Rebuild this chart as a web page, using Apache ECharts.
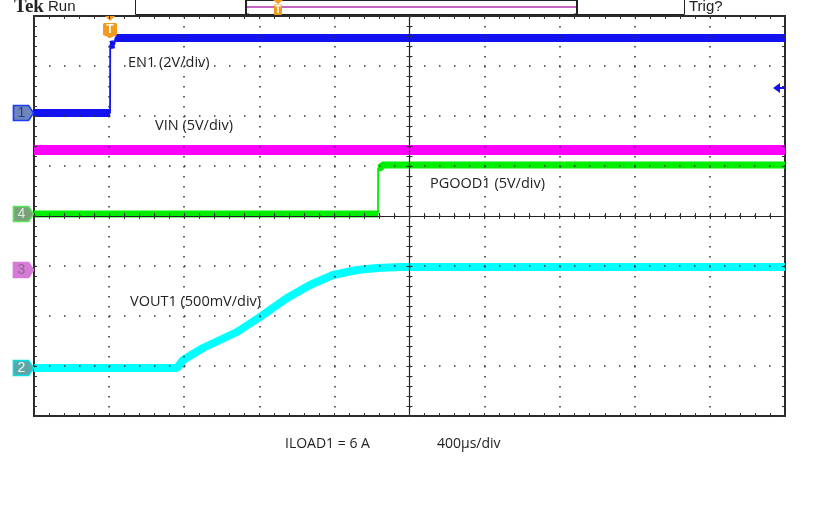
<!DOCTYPE html>
<html><head><meta charset="utf-8">
<script src="https://cdn.jsdelivr.net/npm/echarts@6/dist/echarts.min.js"></script>
<style>html,body{margin:0;padding:0;background:#fff}#c{width:814px;height:505px}</style>
</head><body><div id="c"></div>
<script>
// ---- data (time in µs, center of screen = 0; values in volts) ----
const timeMin = -2000, timeMax = 2000, timeDiv = 400;
const divMin = -4, divMax = 4;

const en1Time = [-2000, -1595, -1594, -1572, -1566, 2000];
const en1Volt = [0, 0, 2.72, 2.75, 3.0, 3.0];
const vinTime = [-2000, 2000];
const vinVolt = [12.0, 12.0];
const pgoodTime = [-2000, -168, -167, -150, -146, 2000];
const pgoodVolt = [0, 0, 4.6, 4.65, 4.9, 4.9];
const voutTime = [-2000, -1238, -1206, -1100, -919, -796, -652, -530, -407, -280, -173, -51, 2000];
const voutVolt = [0, 0, 0.08, 0.20, 0.36, 0.51, 0.70, 0.83, 0.93, 0.98, 1.00, 1.01, 1.01];

const chNumbers = ['1', '2', '3', '4'];
const chVoltsPerDiv = [2, 0.5, 5, 5];
const chOffsetDiv = [2.06, -3.04, -1.08, 0.04];
const chLabels = ['EN1 (2V/div)', 'VOUT1 (500mV/div)', 'VIN (5V/div)', 'PGOOD1 (5V/div)'];
const footerLabels = ['ILOAD1 = 6 A', '400µs/div'];
const trigTime = -1595;
const trigLevelVolt = 1.0;

// ---- styling ----
const chColors = ['#1212f0', '#00ffff', '#ff00ff', '#00ee00'];
const chBandWidth = [8, 8, 10, 7];
const markerFill = ['#6f86b8', '#5fa5a5', '#d77ad7', '#7aa07a'];
const markerBorder = ['#1e3cff', '#00e0e0', '#d77ad7', '#5ae35a'];
const markerText = ['#2a3a9a', '#e8ffff', '#8a6a8a', '#d8f0d8'];

const channels = [
  {t: en1Time, v: en1Volt},
  {t: voutTime, v: voutVolt},
  {t: vinTime, v: vinVolt},
  {t: pgoodTime, v: pgoodVolt}
];

function toDivPoints(ch, i) {
  return ch.t.map((t, k) => [t, chOffsetDiv[i] + ch.v[k] / chVoltsPerDiv[i]]);
}
function bandPoints(pts) {
  const out = [];
  for (let k = 0; k < pts.length; k++) {
    out.push(pts[k]);
    if (k < pts.length - 1) {
      const dt = (pts[k + 1][0] - pts[k][0]) / timeDiv;
      const dv = Math.abs(pts[k + 1][1] - pts[k][1]);
      if (dt < 0.03 && dv > 0.1) out.push([pts[k][0], '-']);
    }
  }
  return out;
}

const series = [];
const drawOrder = [0, 2, 3, 1];
drawOrder.forEach(i => {
  const pts = toDivPoints(channels[i], i);
  series.push({
    type: 'line', data: bandPoints(pts), showSymbol: false, silent: true, animation: false,
    lineStyle: {color: chColors[i], width: chBandWidth[i], cap: 'butt'}, z: 2
  });
  const s = {
    type: 'line', data: pts, showSymbol: false, silent: true, animation: false,
    lineStyle: {color: chColors[i], width: 1.8}, z: 2,
    markPoint: {
      silent: true, animation: false,
      data: [{
        coord: [timeMin, chOffsetDiv[i]],
        symbol: 'path://M0,0 L15,0 L20,7.5 L15,15 L0,15 Z',
        symbolSize: [20, 15], symbolOffset: [-10.5, 0], symbolKeepAspect: false,
        itemStyle: {color: markerFill[i], borderColor: markerBorder[i], borderWidth: 1.5},
        label: {show: true, formatter: chNumbers[i], position: 'inside', offset: [-2, 0.5],
                color: markerText[i], fontSize: 14, fontFamily: 'Liberation Sans'}
      }]
    }
  };
  if (i === 0) {
    s.markPoint.data.push({
      coord: [trigTime, divMax],
      symbol: 'path://M2,0 L12,0 L7,5 Z M1.5,7 L12.5,7 Q14,7 14,8.5 L14,19 L7,22 L0,19 L0,8.5 Q0,7 1.5,7 Z',
      symbolSize: [14, 22], symbolOffset: [0, 11], symbolKeepAspect: false,
      itemStyle: {color: '#f39a1e'},
      label: {show: true, formatter: 'T', position: 'inside', offset: [0, 3], color: '#fff',
              fontWeight: 'bold', fontSize: 12, fontFamily: 'Liberation Sans'}
    });
    s.markPoint.data.push({
      coord: [timeMax, chOffsetDiv[0] + trigLevelVolt / chVoltsPerDiv[0]],
      symbol: 'path://M0,5 L7,0 L7,4 L12,4 L12,6 L7,6 L7,10 Z',
      symbolSize: [12, 10], symbolOffset: [-6, 0],
      itemStyle: {color: '#1212f0'}, label: {show: false}
    });
  }
  series.push(s);
});

const tickCol = '#333';
function xAx(extra) {
  return Object.assign({type: 'value', min: timeMin, max: timeMax, interval: timeDiv, z: 5,
    axisLabel: {show: false}, splitLine: {show: false}}, extra);
}
function yAx(extra) {
  return Object.assign({type: 'value', min: divMin, max: divMax, interval: 1, z: 5,
    axisLabel: {show: false}, splitLine: {show: false}}, extra);
}
const tick = (inside) => ({show: true, inside: inside, length: 3, lineStyle: {color: tickCol, width: 1}});
const minor = {show: true, splitNumber: 5, length: 3, lineStyle: {color: tickCol, width: 1}};
const txt = (x, y, s, font) => ({type: 'text', x: x, y: y, z: 10,
  style: {text: s, font: font, fill: '#222', verticalAlign: 'middle', align: 'left'}});
const labelFont = '14.5px "Open Sans"';

const option = {
  animation: false,
  grid: {left: 34, right: 29, top: 16, height: 400, show: true, borderColor: '#2a2a2a', borderWidth: 2, backgroundColor: 'transparent'},
  xAxis: [
    xAx({position: 'bottom', axisLine: {show: true, onZero: true, onZeroAxisIndex: 0, lineStyle: {color: '#222', width: 1.2}},
         axisTick: tick(true), minorTick: minor,
         splitLine: {show: true, lineStyle: {color: '#333', width: 1.5, type: [1.5, 8.5]}}}),
    xAx({position: 'bottom', axisLine: {show: false, onZero: true, onZeroAxisIndex: 0}, axisTick: tick(false), minorTick: minor}),
    xAx({position: 'top', axisLine: {show: false, onZero: false}, axisTick: tick(true), minorTick: minor}),
    xAx({position: 'bottom', axisLine: {show: false, onZero: false}, axisTick: tick(true), minorTick: minor})
  ],
  yAxis: [
    yAx({position: 'left', axisLine: {show: true, onZero: true, onZeroAxisIndex: 0, lineStyle: {color: '#222', width: 1.2}},
         axisTick: tick(true), minorTick: minor,
         splitLine: {show: true, lineStyle: {color: '#333', width: 1.5, type: [1.5, 13.5]}}}),
    yAx({position: 'left', axisLine: {show: false, onZero: true, onZeroAxisIndex: 0}, axisTick: tick(false), minorTick: minor}),
    yAx({position: 'left', axisLine: {show: false, onZero: false}, axisTick: tick(true), minorTick: minor}),
    yAx({position: 'right', axisLine: {show: false, onZero: false}, axisTick: tick(true), minorTick: minor})
  ],
  series: series,
  graphic: [
    txt(14, 7.5, 'Tek', 'bold 19px "Liberation Serif"'),
    txt(48, 7, 'Run', '15px "Liberation Sans Narrow", "Liberation Sans"'),
    {type: 'rect', shape: {x: 135.5, y: -1.5, width: 549, height: 16}, style: {fill: '#fff', stroke: '#222', lineWidth: 1}},
    {type: 'line', shape: {x1: 247, y1: 7, x2: 576, y2: 7}, style: {stroke: '#b030b0', lineWidth: 1.5}},
    {type: 'polyline', shape: {points: [[249, 0], [246, 0], [246, 14.5], [249, 14.5]]}, style: {stroke: '#222', lineWidth: 2, fill: null}},
    {type: 'polyline', shape: {points: [[574, 0], [577, 0], [577, 14.5], [574, 14.5]]}, style: {stroke: '#222', lineWidth: 2, fill: null}},
    {type: 'line', shape: {x1: 246, y1: 0.5, x2: 577, y2: 0.5}, style: {stroke: '#222', lineWidth: 1}},
    {type: 'line', shape: {x1: 246, y1: 14.5, x2: 577, y2: 14.5}, style: {stroke: '#222', lineWidth: 1}},
    {type: 'polygon', shape: {points: [[273, 0], [283, 0], [278, 4]]}, style: {fill: '#f39a1e'}},
    {type: 'rect', shape: {x: 274, y: 4.5, width: 8, height: 10.5, r: 1}, style: {fill: '#f39a1e'}},
    txt(275, 10, 'T', 'bold 10px "Liberation Sans"'),
    txt(689, 7, 'Trig?', '15px "Liberation Sans Narrow", "Liberation Sans"'),
    txt(128, 63, chLabels[0], labelFont),
    txt(155, 126, chLabels[2], labelFont),
    txt(430, 184, chLabels[3], labelFont),
    txt(130, 302, chLabels[1], labelFont),
    txt(285, 444, footerLabels[0], '14px "Open Sans"'),
    txt(437, 444, footerLabels[1], '14px "Open Sans"')
  ]
};
option.graphic[10].style.fill = '#fff';
const chart = echarts.init(document.getElementById('c'), null, {renderer: 'canvas'});
chart.setOption(option);
</script></body></html>
